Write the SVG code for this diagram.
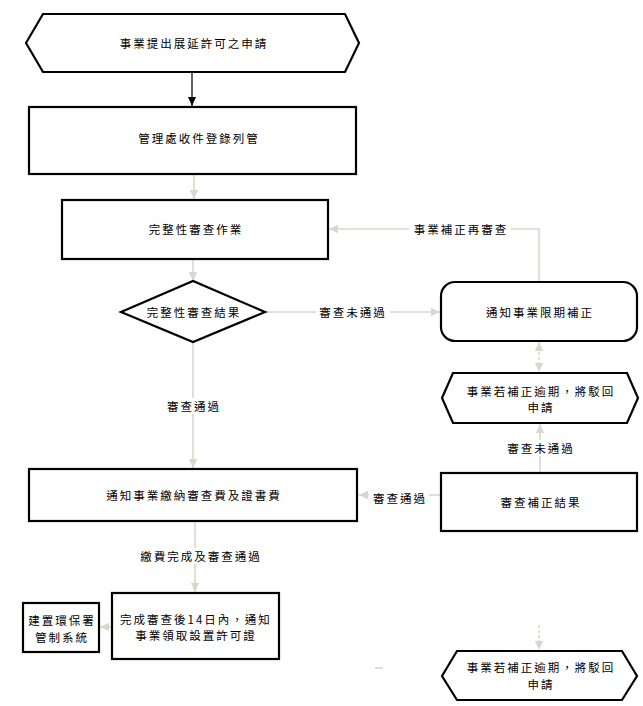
<svg xmlns="http://www.w3.org/2000/svg" width="643" height="706" viewBox="0 0 643 706">
<style>
.n{fill:#fff;stroke:#000;stroke-width:2.2}
.t{font-family:"Noto Sans CJK TC","Noto Sans CJK SC",sans-serif;font-size:11.5px;letter-spacing:2px;fill:#000;text-anchor:middle;dominant-baseline:central}
.c{fill:none;stroke:#d6d9c9;stroke-width:1.6}
.lb{fill:#fff}
</style>
<defs>
<marker id="ag" markerUnits="userSpaceOnUse" markerWidth="10" markerHeight="10" refX="9" refY="5" orient="auto-start-reverse" viewBox="0 0 10 10"><path d="M0,0.8 L9,5 L0,9.2 Z" fill="#d6d9c9"/></marker>
<marker id="ab" markerUnits="userSpaceOnUse" markerWidth="10" markerHeight="10" refX="9" refY="5" orient="auto" viewBox="0 0 10 10"><path d="M0,1 L9,5 L0,9 Z" fill="#000"/></marker>
</defs>
<rect width="643" height="706" fill="#fff"/>
<g id="connectors">
<line x1="192" y1="73" x2="192" y2="106" stroke="#000" stroke-width="1.2" marker-end="url(#ab)"/>
<line class="c" x1="194" y1="175" x2="194" y2="199" marker-end="url(#ag)"/>
<line class="c" x1="193" y1="260" x2="193" y2="281" marker-end="url(#ag)"/>
<line class="c" x1="266" y1="312" x2="440" y2="312" marker-end="url(#ag)"/>
<polyline class="c" points="539,281 539,229 329,229" marker-end="url(#ag)"/>
<line class="c" x1="539" y1="342" x2="539" y2="372" stroke-dasharray="3,2" marker-start="url(#ag)" marker-end="url(#ag)"/>
<line class="c" x1="540" y1="472" x2="540" y2="424" marker-end="url(#ag)"/>
<line class="c" x1="440" y1="495" x2="359" y2="495" marker-end="url(#ag)"/>
<line class="c" x1="193" y1="343" x2="193" y2="468" marker-end="url(#ag)"/>
<line class="c" x1="195" y1="522" x2="195" y2="592" marker-end="url(#ag)"/>
<line class="c" x1="111" y1="627" x2="100" y2="627" marker-end="url(#ag)"/>
<line class="c" x1="539" y1="625" x2="539" y2="650" stroke-dasharray="3,2" marker-end="url(#ag)"/>
<line class="c" x1="375" y1="668" x2="383" y2="668"/>
<rect class="lb" x="316" y="304" width="74" height="16"/>
<text class="t" x="353" y="312">審查未通過</text>
<rect class="lb" x="409" y="221" width="102" height="16"/>
<text class="t" x="461" y="229">事業補正再審查</text>
<rect class="lb" x="505" y="440" width="72" height="16"/>
<text class="t" x="541" y="448">審查未通過</text>
<rect class="lb" x="369" y="490" width="60" height="16"/>
<text class="t" x="400" y="498">審查通過</text>
<rect class="lb" x="163" y="398" width="60" height="16"/>
<text class="t" x="194" y="406">審查通過</text>
<rect class="lb" x="131" y="548" width="138" height="16"/>
<text class="t" x="201" y="556">繳費完成及審查通過</text>
</g>
<g id="n1">
<polygon class="n" points="26,43 43,14 345,14 359,43 345,72 43,72"/>
<text class="t" x="194" y="43">事業提出展延許可之申請</text>
</g>
<g id="n2">
<rect class="n" x="29" y="107" width="327" height="67"/>
<text class="t" x="199" y="138">管理處收件登錄列管</text>
</g>
<g id="n3">
<rect class="n" x="62" y="200" width="266" height="59"/>
<text class="t" x="196" y="229">完整性審查作業</text>
</g>
<g id="n4">
<polygon class="n" points="121,312 193,281 265,312 193,342"/>
<text class="t" x="194" y="312">完整性審查結果</text>
</g>
<g id="n5">
<rect class="n" x="441" y="282" width="196" height="59" rx="14"/>
<text class="t" x="540" y="312">通知事業限期補正</text>
</g>
<g id="n6">
<polygon class="n" points="442,398 453,373 627,373 638,398 627,423 453,423"/>
<text class="t" x="541" y="391">事業若補正逾期，將駁回</text>
<text class="t" x="541" y="407">申請</text>
</g>
<g id="n7">
<rect class="n" x="441" y="473" width="196" height="58"/>
<text class="t" x="541" y="502">審查補正結果</text>
</g>
<g id="n8">
<rect class="n" x="29" y="469" width="328" height="52"/>
<text class="t" x="194" y="495">通知事業繳納審查費及證書費</text>
</g>
<g id="n9">
<rect class="n" x="112" y="593" width="167" height="66"/>
<text class="t" x="196" y="619">完成審查後14日內，通知</text>
<text class="t" x="196" y="635">事業領取設置許可證</text>
</g>
<g id="n10">
<rect class="n" x="23" y="603" width="76" height="49"/>
<text class="t" x="62" y="620">建置環保署</text>
<text class="t" x="62" y="637">管制系統</text>
</g>
<g id="n11">
<polygon class="n" points="442,676 457,651 622,651 637,676 622,700 457,700"/>
<text class="t" x="541" y="667">事業若補正逾期，將駁回</text>
<text class="t" x="541" y="684">申請</text>
</g>
</svg>
